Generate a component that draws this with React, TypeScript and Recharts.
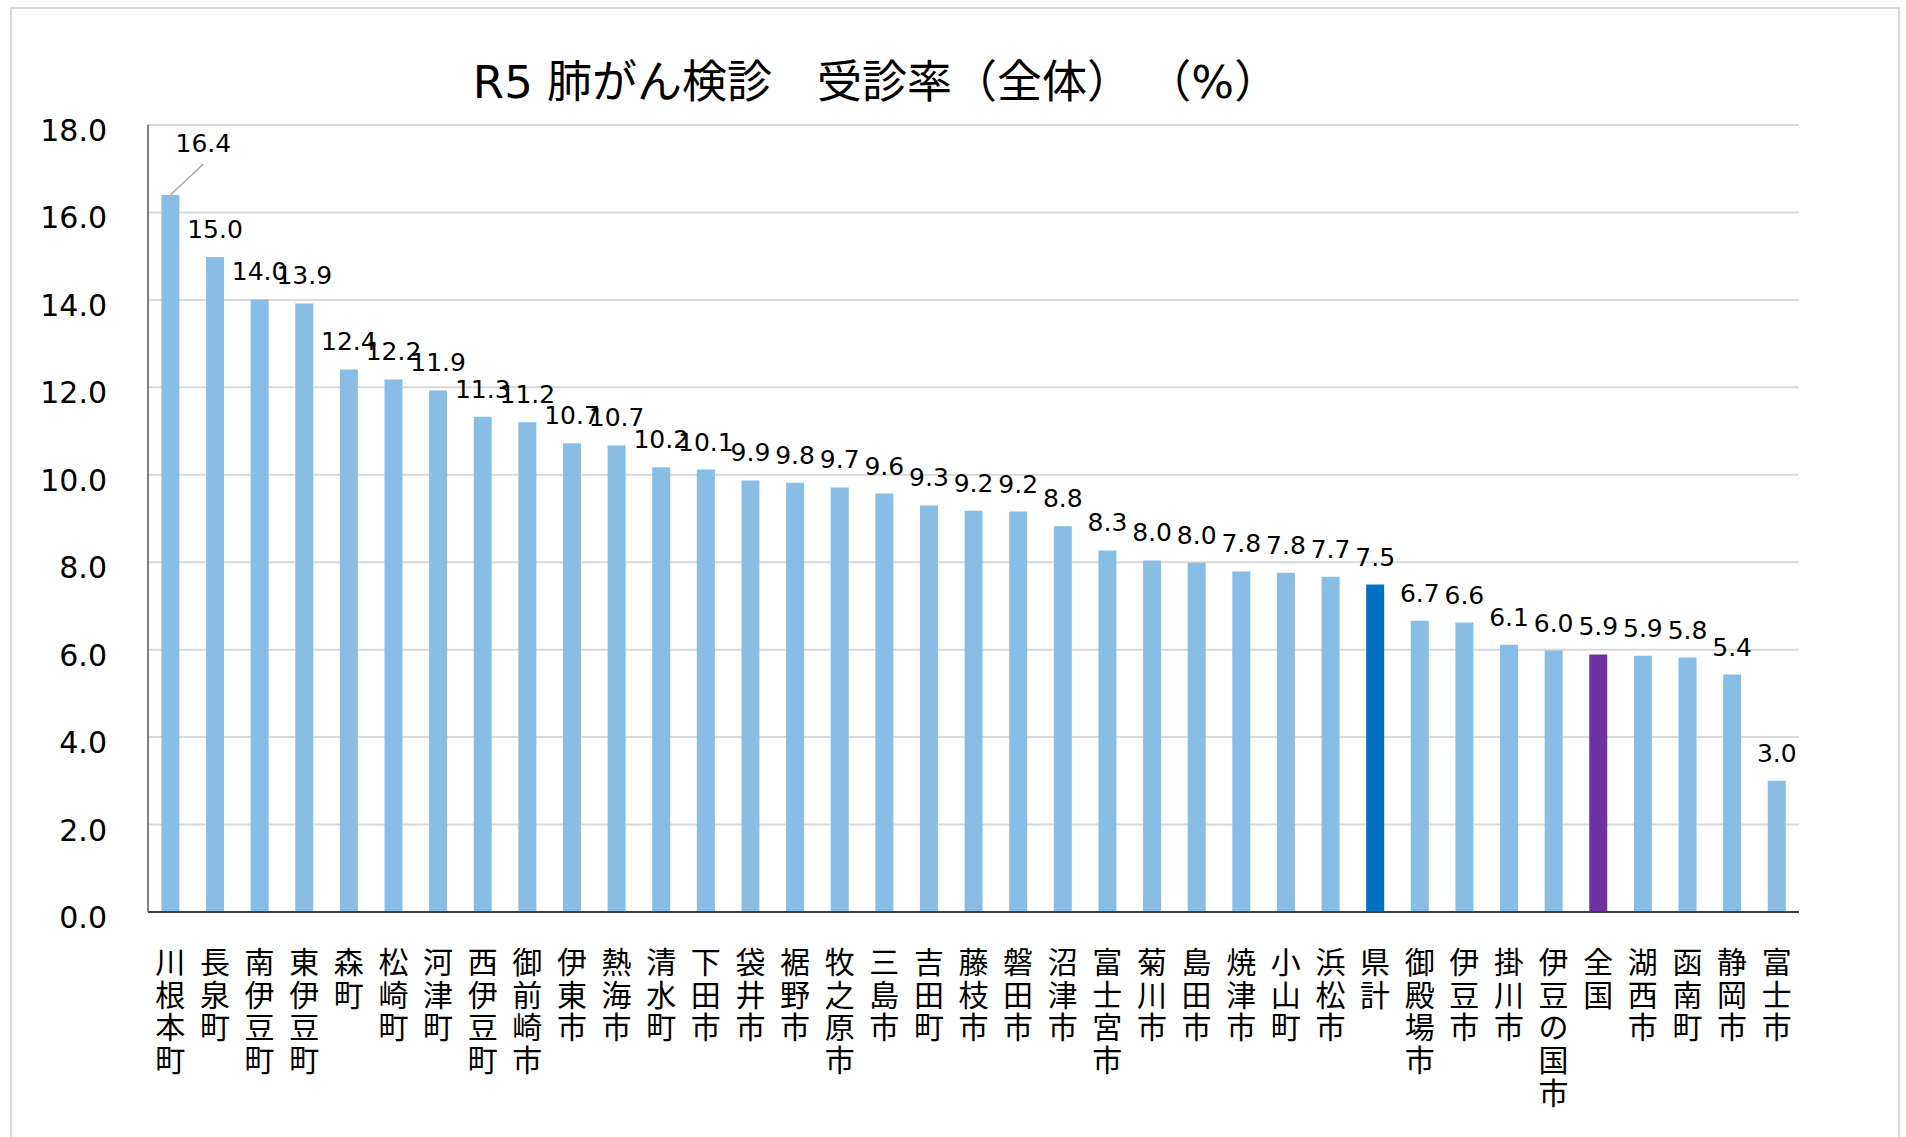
import React from 'react';
import { BarChart, Bar, XAxis, YAxis, CartesianGrid, Cell, LabelList } from 'recharts';

const categories = [
  '川根本町', '長泉町', '南伊豆町', '東伊豆町', '森町', '松崎町', '河津町', '西伊豆町', '御前崎市',
  '伊東市', '熱海市', '清水町', '下田市', '袋井市', '裾野市', '牧之原市', '三島市', '吉田町',
  '藤枝市', '磐田市', '沼津市', '富士宮市', '菊川市', '島田市', '焼津市', '小山町', '浜松市',
  '県計', '御殿場市', '伊豆市', '掛川市', '伊豆の国市', '全国', '湖西市', '函南町', '静岡市', '富士市',
];

const values = [
  16.4, 14.98, 14.01, 13.92, 12.41, 12.18, 11.93, 11.33, 11.2,
  10.72, 10.67, 10.17, 10.12, 9.87, 9.82, 9.71, 9.57, 9.3,
  9.18, 9.16, 8.82, 8.27, 8.04, 7.99, 7.79, 7.76, 7.67,
  7.49, 6.66, 6.62, 6.11, 5.98, 5.89, 5.86, 5.82, 5.43, 3.0,
];

const yTicks = [0, 2, 4, 6, 8, 10, 12, 14, 16, 18];

const titleText = 'R5 肺がん検診　受診率（全体） （%）';

const BASE_COLOR = '#88BEE6';
const SPECIAL_COLORS: Record<string, string> = { '県計': '#0070C0', '全国': '#7030A0' };

const data = categories.map((name, i) => ({ name, value: values[i] }));

const LATIN_FONT = "'DejaVu Sans', 'Noto Sans CJK JP', sans-serif";
const CJK_FONT = "'Noto Sans CJK JP', sans-serif";

const YTick = (props: any) => {
  const { x, y, payload } = props;
  return (
    <text x={x} y={y + 16} textAnchor="end" fontSize={30} fontFamily={LATIN_FONT} fill="#000">
      {Number(payload.value).toFixed(1)}
    </text>
  );
};

const XTick = (props: any) => {
  const { x, y, payload } = props;
  const chars = Array.from(String(payload.value));
  return (
    <text x={x} y={y} textAnchor="middle" fontSize={30} fontFamily={CJK_FONT} fill="#000">
      {chars.map((c, i) => (
        <tspan key={i} x={x} dy={i === 0 ? 61 : 32.7}>
          {c}
        </tspan>
      ))}
    </text>
  );
};

const ValueLabel = (props: any) => {
  const { x, y, width, value, index } = props;
  const cx = x + width / 2;
  const txt = Number(value).toFixed(1);
  if (index === 0) {
    return (
      <g>
        <line x1={cx} y1={y} x2={cx + 33} y2={y - 31} stroke="#a6a6a6" strokeWidth={1.5} />
        <text x={cx + 33} y={y - 43} textAnchor="middle" fontSize={25} fontFamily={LATIN_FONT} fill="#000">
          {txt}
        </text>
      </g>
    );
  }
  return (
    <text x={cx} y={y - 19} textAnchor="middle" fontSize={25} fontFamily={LATIN_FONT} fill="#000">
      {txt}
    </text>
  );
};

export default function App() {
  return (
    <div
      style={{
        position: 'absolute',
        left: 0,
        top: 0,
        width: 1906,
        height: 1137,
        overflow: 'hidden',
        background: '#fff',
      }}
    >
      <div
        style={{
          position: 'absolute',
          left: 10,
          top: 7,
          width: 1890,
          height: 1300,
          border: '2px solid #d9d9d9',
          boxSizing: 'border-box',
        }}
      />
      <div
        style={
          {
            position: 'absolute',
            left: 876 - 700,
            top: 60,
            width: 1400,
            height: 45,
            lineHeight: '45px',
            textAlign: 'center',
            fontSize: 45,
            fontFamily: LATIN_FONT,
            color: '#000',
            whiteSpace: 'pre',
            textSpacingTrim: 'space-all',
          } as any
        }
      >
        {titleText}
      </div>
      <div style={{ position: 'absolute', left: 0, top: 0 }}>
        <BarChart
          width={1906}
          height={1137}
          data={data}
          margin={{ top: 125, right: 107, bottom: 0, left: 0 }}
          barCategoryGap="30%"
        >
          <CartesianGrid vertical={false} stroke="#d9d9d9" strokeWidth={2} />
          <XAxis
            dataKey="name"
            interval={0}
            height={225}
            tickLine={false}
            tickSize={0}
            tickMargin={0}
            axisLine={{ stroke: '#404040', strokeWidth: 2 }}
            tick={<XTick />}
          />
          <YAxis
            width={148}
            domain={[0, 18]}
            ticks={yTicks}
            interval={0}
            tickLine={false}
            tickSize={0}
            tickMargin={41}
            axisLine={{ stroke: '#595959', strokeWidth: 1.5 }}
            tick={<YTick />}
          />
          <Bar dataKey="value" fill={BASE_COLOR} isAnimationActive={false}>
            {data.map((d, i) => (
              <Cell key={i} fill={SPECIAL_COLORS[d.name] || BASE_COLOR} />
            ))}
            <LabelList dataKey="value" content={<ValueLabel />} />
          </Bar>
        </BarChart>
      </div>
    </div>
  );
}
